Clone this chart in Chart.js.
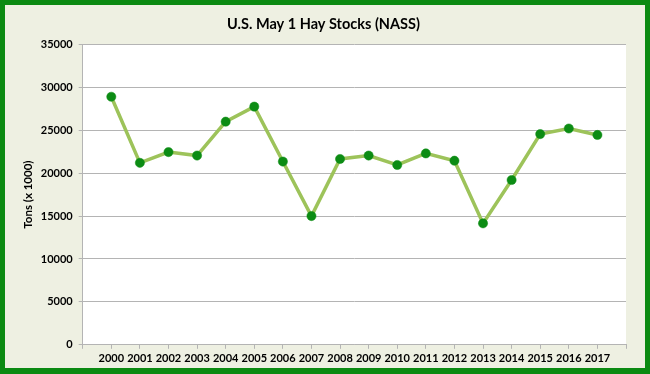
<!DOCTYPE html>
<html>
<head>
<meta charset="utf-8">
<script src="https://cdn.jsdelivr.net/npm/chart.js@4"></script>
<style>
    html, body { margin: 0; padding: 0; }
    #wrap {
        width: 640px;
        height: 363px;
        border-style: solid;
        border-color: #0b8a12;
        border-width: 5px 5px 6px 5px;
        background: #eef0e2;
    }
</style>
</head>
<body>
<div id="wrap"><canvas id="myChart" width="640" height="363"></canvas></div>
<script>
const years = [2000, 2001, 2002, 2003, 2004, 2005, 2006, 2007, 2008,
    2009, 2010, 2011, 2012, 2013, 2014, 2015, 2016, 2017];
const stocks = [28900, 21200, 22450, 22050, 26000, 27750, 21350, 15000, 21650,
    22050, 20950, 22300, 21450, 14150, 19200, 24550, 25200, 24450];
const yTicks = [0, 5000, 10000, 15000, 20000, 25000, 30000, 35000];

const points = years.map((yr, i) => ({ x: yr, y: stocks[i] }));

// white plot area on the beige panel
const plotBackground = {
    id: 'plotBackground',
    beforeDraw(chart) {
        const { ctx, chartArea } = chart;
        ctx.save();
        ctx.fillStyle = '#ffffff';
        ctx.fillRect(chartArea.left, chartArea.top, chartArea.right - chartArea.left, chartArea.bottom - chartArea.top);
        ctx.restore();
    }
};

const ctx = document.querySelector('#myChart').getContext('2d');
Chart.defaults.color = '#000000';
Chart.defaults.font.family = 'Lato, sans-serif';

new Chart(ctx, {
    type: 'line',
    data: {
        datasets: [{
            label: 'Hay Stocks',
            data: points,
            borderColor: '#9dc35a',
            borderWidth: 3.5,
            pointBackgroundColor: '#0c8c14',
            pointBorderColor: '#0c8c14',
            pointBorderWidth: 0.5,
            pointRadius: 4.6,
            tension: 0
        }]
    },
    options: {
        responsive: false,
        animation: false,
        layout: { padding: { left: 16, right: 19, top: 0, bottom: 0 } },
        plugins: {
            legend: { display: false },
            tooltip: { enabled: false },
            title: {
                display: true,
                text: 'U.S. May 1 Hay Stocks (NASS)',
                font: { size: 14.5, weight: 'bold' },
                padding: { top: 11, bottom: 11 }
            }
        },
        scales: {
            x: {
                type: 'linear',
                min: 1999,
                max: 2018,
                border: { color: '#b4b4b4', width: 1 },
                grid: { drawOnChartArea: false, drawTicks: true, tickLength: 4, color: '#b4b4b4' },
                ticks: {
                    stepSize: 1,
                    autoSkip: false,
                    maxRotation: 0,
                    padding: 3,
                    font: { size: 11, weight: 'bold' },
                    callback: v => years.includes(v) ? String(v) : ''
                }
            },
            y: {
                min: 0,
                max: 35000,
                border: { color: '#b4b4b4', width: 1 },
                grid: { color: '#b4b4b4', tickLength: 4 },
                afterBuildTicks: axis => { axis.ticks = yTicks.map(v => ({ value: v })); },
                ticks: {
                    padding: 6,
                    font: { size: 11, weight: 'bold' },
                    callback: v => String(v)
                },
                title: {
                    display: true,
                    text: 'Tons (x 1000)',
                    font: { size: 11.5, weight: 'bold' },
                    padding: { top: 0, bottom: 0 }
                }
            }
        }
    },
    plugins: [plotBackground]
});
</script>
</body>
</html>
